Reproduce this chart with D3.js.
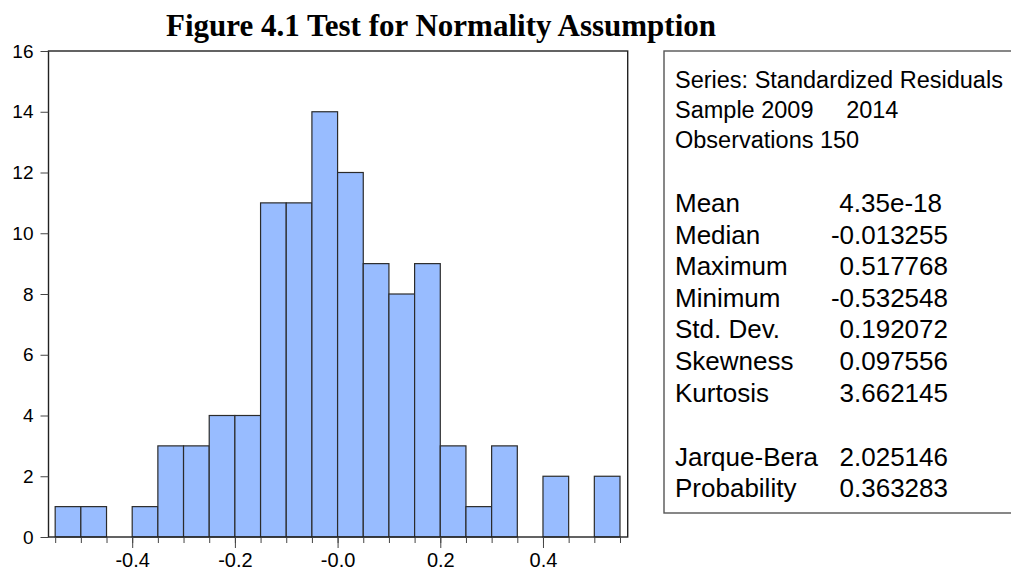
<!DOCTYPE html>
<html>
<head>
<meta charset="utf-8">
<script src="https://cdn.jsdelivr.net/npm/d3@7"></script>
<style>
  body { margin: 0; background: #fff; }
  svg { display: block; }
  text { font-family: "Liberation Sans", Arial, sans-serif; fill: #000; }
</style>
</head>
<body>
<svg id="chart"></svg>
<script>
// histogram bins (lower edge) and counts
const binLo = [-0.55, -0.50, -0.45, -0.40, -0.35, -0.30, -0.25, -0.20, -0.15, -0.10, -0.05,
               0.00, 0.05, 0.10, 0.15, 0.20, 0.25, 0.30, 0.35, 0.40, 0.45, 0.50];
const counts = [1, 1, 0, 1, 3, 3, 4, 4, 11, 11, 14, 12, 9, 8, 9, 3, 1, 3, 0, 2, 0, 2];
const binWidth = 0.05;

const yTicks = [0, 2, 4, 6, 8, 10, 12, 14, 16];
const xTicks = [-0.4, -0.2, 0, 0.2, 0.4];
const xTickLabels = ["-0.4", "-0.2", "-0.0", "0.2", "0.4"];

const headerLines = ["Series: Standardized Residuals", "Sample 2009     2014", "Observations 150"];
const statLabels = ["Mean", "Median", "Maximum", "Minimum", "Std. Dev.", "Skewness", "Kurtosis"];
const statValues = ["4.35e-18", "-0.013255", "0.517768", "-0.532548", "0.192072", "0.097556", "3.662145"];
const testLabels = ["Jarque-Bera", "Probability"];
const testValues = ["2.025146", "0.363283"];

const width = 1011;
const height = 570;
const svg = d3.select("#chart")
  .attr("width", width)
  .attr("height", height);

const plot = { left: 48.5, top: 51, right: 627.7, bottom: 537 };

const x = d3.scaleLinear().domain([-0.563, 0.565]).range([plot.left, plot.right]);
const y = d3.scaleLinear().domain([0, 16]).range([plot.bottom, plot.top]);

// title
svg.append("text")
  .attr("x", 441)
  .attr("y", 36)
  .attr("text-anchor", "middle")
  .style("font-family", "'Liberation Serif', 'Times New Roman', serif")
  .style("font-weight", "bold")
  .style("font-size", "31px")
  .text("Figure 4.1 Test for Normality Assumption");

// bars
svg.append("g")
  .selectAll("rect")
  .data(binLo.map((lo, i) => ({ lo: lo, n: counts[i] })).filter(d => d.n > 0))
  .enter().append("rect")
    .attr("x", d => x(d.lo))
    .attr("y", d => y(d.n))
    .attr("width", d => x(d.lo + binWidth) - x(d.lo))
    .attr("height", d => y(0) - y(d.n))
    .attr("fill", "#98bcff")
    .attr("stroke", "#2b2b2b")
    .attr("stroke-width", 1.2);

// frame
svg.append("rect")
  .attr("x", plot.left)
  .attr("y", plot.top)
  .attr("width", plot.right - plot.left)
  .attr("height", plot.bottom - plot.top)
  .attr("fill", "none")
  .attr("stroke", "#222")
  .attr("stroke-width", 1.4);

// y axis
const yAxis = svg.append("g")
  .attr("transform", `translate(${plot.left},0)`)
  .call(d3.axisLeft(y).tickValues(yTicks).tickSize(8).tickPadding(7).tickFormat(d3.format("d")));
yAxis.select(".domain").remove();
yAxis.selectAll("line").attr("stroke", "#444");
yAxis.selectAll("text").style("font-size", "19px").style("font-family", "'Liberation Sans', Arial, sans-serif");

// x axis: minor ticks at every bin edge, longer ones with labels
const edges = binLo.concat([binLo[binLo.length - 1] + binWidth]);
const xMinor = svg.append("g")
  .attr("transform", `translate(0,${plot.bottom})`)
  .call(d3.axisBottom(x).tickValues(edges).tickSize(6).tickFormat(""));
xMinor.select(".domain").remove();
xMinor.selectAll("line").attr("stroke", "#444");

const xAxis = svg.append("g")
  .attr("transform", `translate(0,${plot.bottom})`)
  .call(d3.axisBottom(x).tickValues(xTicks).tickSize(11).tickPadding(5)
    .tickFormat((d, i) => xTickLabels[i]));
xAxis.select(".domain").remove();
xAxis.selectAll("line").attr("stroke", "#444");
xAxis.selectAll("text").style("font-size", "20px").style("font-family", "'Liberation Sans', Arial, sans-serif");

// statistics box
svg.append("rect")
  .attr("x", 664)
  .attr("y", 51)
  .attr("width", 400)
  .attr("height", 462)
  .attr("fill", "none")
  .attr("stroke", "#555")
  .attr("stroke-width", 1.4);

const box = svg.append("g");
box.selectAll("text.head")
  .data(headerLines)
  .enter().append("text")
    .attr("class", "head")
    .attr("x", 675)
    .attr("y", (d, i) => 88 + i * 30)
    .style("font-size", "23.5px")
    .style("white-space", "pre")
    .text(d => d);

const statRows = statLabels.map((l, i) => ({ label: l, value: statValues[i], y: 212 + i * 31.6 }))
  .concat(testLabels.map((l, i) => ({ label: l, value: testValues[i], y: 465.5 + i * 31.6 })));

box.selectAll("text.lab")
  .data(statRows)
  .enter().append("text")
    .attr("class", "lab")
    .attr("x", 675)
    .attr("y", d => d.y)
    .style("font-size", "26px")
    .text(d => d.label);

box.selectAll("text.val")
  .data(statRows)
  .enter().append("text")
    .attr("class", "val")
    .attr("x", d => d.label === "Mean" ? 942 : 948)
    .attr("y", d => d.y)
    .attr("text-anchor", "end")
    .style("font-size", "26px")
    .text(d => d.value);
</script>
</body>
</html>
